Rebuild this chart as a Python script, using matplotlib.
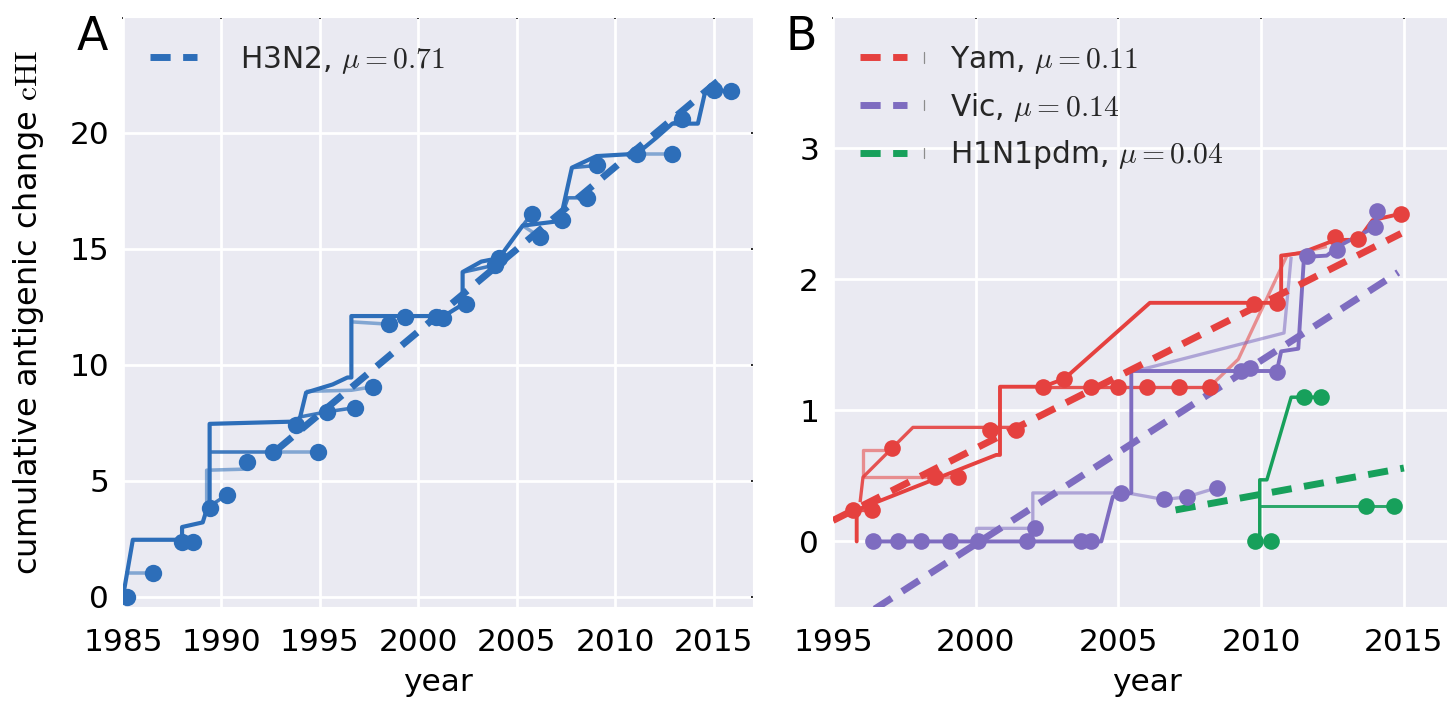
import matplotlib
matplotlib.use("Agg")
import matplotlib.pyplot as plt
from matplotlib.lines import Line2D
from matplotlib.legend_handler import HandlerLine2D
import numpy as np
import seaborn as sns

sns.set_style("darkgrid")
plt.rcParams['font.family'] = ['DejaVu Sans']
plt.rcParams['mathtext.fontset'] = 'cm'

# ---------------- data ----------------
xticks_A = [1985, 1990, 1995, 2000, 2005, 2010, 2015]
yticks_A = [0, 5, 10, 15, 20]
xticks_B = [1995, 2000, 2005, 2010, 2015]
yticks_B = [0, 1, 2, 3]

# H3N2 tree: main lineage, side branches and tips (year, cHI)
h3n2_trunk_year = [1985.0, 1985.5, 1988.0, 1988.0, 1989.05, 1989.25, 1989.4, 1989.4, 1993.8, 1994.0,
                   1994.3, 1995.65, 1996.4, 1996.6, 1996.6, 2001.3, 2002.25, 2002.25, 2003.2, 2004.1,
                   2005.3, 2007.2, 2007.8, 2009.05, 2011.1, 2012.1, 2012.9, 2014.2, 2014.55, 2015.0]
h3n2_trunk_chi = [0.0, 2.45, 2.45, 3.0, 3.2, 3.75, 3.9, 7.45, 7.55, 7.75,
                  8.8, 9.15, 9.45, 9.45, 12.1, 12.1, 12.6, 14.0, 14.45, 14.6,
                  16.0, 16.2, 18.5, 19.0, 19.1, 19.8, 20.4, 20.4, 21.7, 21.85]
h3n2_branch_year = [[1988.0, 1988.55], [1989.4, 1990.3], [1989.4, 1992.6],
                    [1994.0, 1995.35, 1996.8], [2002.3, 2003.9], [2005.3, 2005.75],
                    [2007.2, 2007.6, 2008.55], [2007.8, 2009.1], [2012.9, 2013.4],
                    [2015.0, 2015.9]]
h3n2_branch_chi = [[2.45, 2.37], [3.9, 4.4], [6.25, 6.25],
                   [7.75, 7.97, 8.15], [14.0, 14.3], [16.0, 16.5],
                   [16.2, 17.2, 17.2], [18.5, 18.6], [20.4, 20.6],
                   [21.85, 21.8]]
h3n2_pale_year = [[1985.1, 1986.5], [1989.25, 1989.25, 1991.3], [1992.6, 1994.9],
                  [1994.3, 1996.6, 1997.7], [1996.6, 1998.5], [2005.3, 2006.2],
                  [2011.1, 2012.9]]
h3n2_pale_chi = [[1.0, 1.0], [3.8, 5.45, 5.5], [6.25, 6.25],
                 [8.85, 8.9, 9.05], [11.85, 11.75], [16.0, 15.5],
                 [19.1, 19.1]]
h3n2_tip_year = [1985.2, 1986.5, 1988.0, 1988.55, 1989.4, 1990.3, 1991.3, 1992.6, 1993.8, 1994.9,
                 1995.35, 1996.8, 1997.7, 1998.5, 1999.3, 2000.9, 2001.25, 2002.4, 2003.9, 2004.1,
                 2005.75, 2006.2, 2007.3, 2008.55, 2009.1, 2011.1, 2012.9, 2013.4, 2015.0, 2015.9]
h3n2_tip_chi = [0.0, 1.03, 2.37, 2.37, 3.83, 4.4, 5.8, 6.25, 7.4, 6.25,
                7.97, 8.15, 9.05, 11.75, 12.07, 12.07, 12.0, 12.6, 14.3, 14.6,
                16.5, 15.5, 16.25, 17.2, 18.6, 19.1, 19.1, 20.6, 21.85, 21.8]
h3n2_mu = 0.71
h3n2_fit_year = [1992.8, 2015.2]
h3n2_fit_start = 6.32

# B/Yamagata
yam_trunk_year = [1995.83, 1995.83, 2000.72, 2000.85, 2000.85, 2002.35, 2003.1, 2006.1,
                  2010.55, 2010.7, 2010.7, 2011.4, 2012.6, 2013.4, 2013.9, 2014.9]
yam_trunk_chi = [0.0, 0.24, 0.66, 0.66, 1.18, 1.18, 1.24, 1.82,
                 1.82, 1.85, 2.18, 2.2, 2.3, 2.3, 2.45, 2.5]
yam_branch_year = [[1995.83, 1996.36], [1995.95, 1996.05, 1997.8, 2001.4], [2002.35, 2008.2]]
yam_branch_chi = [[0.24, 0.24], [0.3, 0.49, 0.87, 0.87], [1.18, 1.18]]
yam_pale_year = [[1996.05, 1999.37], [1996.05, 1996.05, 1997.05],
                 [2008.2, 2009.2, 2010.9, 2012.3]]
yam_pale_chi = [[0.49, 0.49], [0.49, 0.70, 0.70], [1.18, 1.39, 2.18, 2.25]]
yam_tip_year = [1995.7, 1996.36, 1997.05, 1998.57, 1999.37, 2000.5, 2001.4, 2002.35, 2003.1, 2004.05,
                2004.97, 2006.0, 2007.13, 2008.2, 2009.75, 2010.55, 2012.6, 2013.4, 2014.9]
yam_tip_chi = [0.24, 0.24, 0.71, 0.49, 0.49, 0.85, 0.85, 1.18, 1.24, 1.18,
               1.18, 1.18, 1.18, 1.18, 1.81, 1.82, 2.32, 2.31, 2.5]
yam_mu = 0.11
yam_fit_year = [1995.0, 2014.9]
yam_fit_start = 0.16

# B/Victoria
vic_trunk_year = [1996.4, 2004.4, 2004.8, 2005.45, 2005.45, 2010.55, 2010.7, 2011.3, 2011.5,
                  2012.3, 2012.7, 2014.0, 2014.05]
vic_trunk_chi = [0.0, 0.0, 0.34, 0.37, 1.30, 1.30, 1.45, 1.47, 2.17,
                 2.18, 2.25, 2.4, 2.52]
vic_pale_year = [[2000.0, 2000.03, 2002.0, 2002.0, 2005.3, 2006.6, 2007.4, 2008.46],
                 [2005.6, 2010.8, 2011.05]]
vic_pale_chi = [[0.0, 0.1, 0.1, 0.37, 0.37, 0.32, 0.34, 0.41],
                [1.3, 1.59, 2.17]]
vic_tip_year = [1996.4, 1997.27, 1998.1, 1999.1, 2000.07, 2001.8, 2002.07, 2003.7, 2004.05, 2005.1,
                2006.6, 2007.4, 2008.46, 2009.3, 2009.6, 2010.55, 2011.6, 2012.65, 2014.0, 2014.05]
vic_tip_chi = [0.0, 0.0, 0.0, 0.0, 0.0, 0.0, 0.1, 0.0, 0.0, 0.37,
               0.32, 0.34, 0.41, 1.30, 1.32, 1.29, 2.18, 2.22, 2.4, 2.52]
vic_mu = 0.14
vic_fit_year = [1995.5, 2014.8]
vic_fit_start = -0.65

# H1N1pdm
pdm_trunk_year = [2009.95, 2009.95, 2010.2, 2011.05, 2012.1]
pdm_trunk_chi = [0.0, 0.47, 0.47, 1.10, 1.10]
pdm_branch_year = [[2009.95, 2014.65]]
pdm_branch_chi = [[0.27, 0.27]]
pdm_tip_year = [2009.8, 2010.35, 2011.5, 2012.1, 2013.67, 2014.65]
pdm_tip_chi = [0.0, 0.0, 1.10, 1.10, 0.27, 0.27]
pdm_mu = 0.04
pdm_fit_year = [2007.0, 2015.0]
pdm_fit_start = 0.24

BLUE = '#2D6EB9'
RED = '#E5413F'
PURPLE = '#7E6CC0'
GREEN = '#17A05B'

TICK_FS = 22.5
LEG_FS = 21.4
DASH = (2.9, 1.8)


class DashWithTick(HandlerLine2D):
    """Dashed legend handle followed by a small grey tick mark."""

    def create_artists(self, legend, orig_handle, xdescent, ydescent, width, height,
                       fontsize, trans):
        artists = super().create_artists(legend, orig_handle, xdescent, ydescent,
                                         width, height, fontsize, trans)
        x = width - xdescent + 0.55 * fontsize
        tick = Line2D([x, x], [height * 0.25 - ydescent, height * 0.75 - ydescent],
                      color='0.55', lw=0.9, transform=trans)
        return list(artists) + [tick]


def draw_tree(ax, color, trunk_x, trunk_y, br_x, br_y, pale_x, pale_y, tip_x, tip_y,
              lw=3.0, ms=12.5):
    for xs, ys in zip(pale_x, pale_y):
        ax.plot(xs, ys, color=color, lw=lw * 0.85, alpha=0.55, solid_capstyle='butt', zorder=2)
    for xs, ys in zip(br_x, br_y):
        ax.plot(xs, ys, color=color, lw=lw * 0.85, alpha=0.9, solid_capstyle='butt', zorder=3)
    ax.plot(trunk_x, trunk_y, color=color, lw=lw, zorder=3)
    ax.plot(tip_x, tip_y, 'o', color=color, ms=ms, mew=0, zorder=5, linestyle='none')


def draw_fit(ax, color, span, start, mu, label):
    xs = np.array(span)
    ys = start + mu * (xs - xs[0])
    ax.plot(xs, ys, color=color, lw=5, dashes=DASH, zorder=4, label=label)


def style_axes(ax, xticks, yticks, xlim, ylim):
    ax.set_xlim(*xlim)
    ax.set_ylim(*ylim)
    ax.set_xticks(xticks)
    ax.set_yticks(yticks)
    ax.grid(True, color='white', lw=2)
    ax.set_facecolor('#EAEAF2')
    ax.tick_params(axis='both', which='major', direction='in', length=1.2, width=1.2,
                   color='black', labelcolor='black', labelsize=TICK_FS,
                   top=True, right=True)
    ax.tick_params(axis='x', pad=15)
    ax.tick_params(axis='y', pad=10)
    ax.set_xlabel('year', fontsize=TICK_FS, color='black', labelpad=8)


fig = plt.figure(figsize=(14.47, 7.10), dpi=100)
fig.patch.set_facecolor('white')

axA = fig.add_axes([123 / 1447, 1 - 607 / 710, 630 / 1447, 590 / 710])
axB = fig.add_axes([833 / 1447, 1 - 607 / 710, 628 / 1447, 590 / 710])

# panel A
draw_tree(axA, BLUE, h3n2_trunk_year, h3n2_trunk_chi, h3n2_branch_year, h3n2_branch_chi,
          h3n2_pale_year, h3n2_pale_chi, h3n2_tip_year, h3n2_tip_chi)
draw_fit(axA, BLUE, h3n2_fit_year, h3n2_fit_start, h3n2_mu,
         r'H3N2, $\mu=%.2f$' % h3n2_mu)
style_axes(axA, xticks_A, yticks_A, (1985, 2017), (-0.45, 25.0))
axA.set_ylabel(r'cumulative antigenic change $\mathrm{cHI}$', fontsize=23, color='black')
axA.yaxis.set_label_coords(-0.122, 0.5)
axA.legend(loc='upper left', fontsize=LEG_FS, frameon=False, handlelength=1.6,
           handletextpad=1.45)

# panel B
draw_tree(axB, RED, yam_trunk_year, yam_trunk_chi, yam_branch_year, yam_branch_chi,
          yam_pale_year, yam_pale_chi, yam_tip_year, yam_tip_chi, lw=2.8, ms=12)
draw_tree(axB, PURPLE, vic_trunk_year, vic_trunk_chi, [], [],
          vic_pale_year, vic_pale_chi, vic_tip_year, vic_tip_chi, lw=2.8, ms=12)
draw_tree(axB, GREEN, pdm_trunk_year, pdm_trunk_chi, pdm_branch_year, pdm_branch_chi,
          [], [], pdm_tip_year, pdm_tip_chi, lw=2.5, ms=12)
draw_fit(axB, RED, yam_fit_year, yam_fit_start, yam_mu, r'Yam, $\mu=%.2f$' % yam_mu)
draw_fit(axB, PURPLE, vic_fit_year, vic_fit_start, vic_mu, r'Vic, $\mu=%.2f$' % vic_mu)
draw_fit(axB, GREEN, pdm_fit_year, pdm_fit_start, pdm_mu, r'H1N1pdm, $\mu=%.2f$' % pdm_mu)
style_axes(axB, xticks_B, yticks_B, (1995, 2017), (-0.5, 4.0))
axB.legend(loc='upper left', fontsize=LEG_FS, frameon=False, handlelength=1.6,
           handletextpad=1.45, handler_map={Line2D: DashWithTick()})

fig.text(77 / 1447, 1 - 50 / 710, 'A', fontsize=33, color='black', va='baseline')
fig.text(786 / 1447, 1 - 50 / 710, 'B', fontsize=33, color='black', va='baseline')

fig.savefig('out.png', dpi=100, facecolor='white')
